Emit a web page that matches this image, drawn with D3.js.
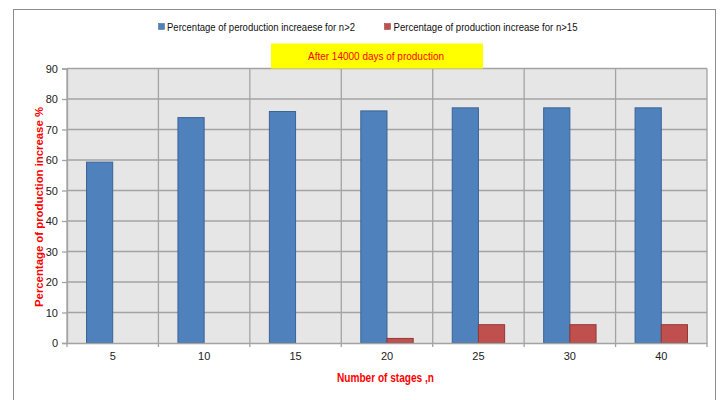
<!DOCTYPE html>
<html>
<head>
<meta charset="utf-8">
<script src="https://cdn.jsdelivr.net/npm/d3@7"></script>
<style>
  html, body { margin: 0; padding: 0; background: #fff; }
  svg { display: block; }
  text { font-family: "Liberation Sans Narrow", "Liberation Sans", Arial, sans-serif; }
</style>
</head>
<body>
<svg id="chart" width="720" height="400"></svg>
<script>
// Number of stages (category axis)
const stages = ["5", "10", "15", "20", "25", "30", "40"];
// Percentage of production increase for n>2
const increaseN2 = [59.3, 73.9, 75.9, 76.1, 77.1, 77.1, 77.1];
// Percentage of production increase for n>15
const increaseN15 = [0, 0, 0, 1.5, 6, 6, 6];
const yTicks = [0, 10, 20, 30, 40, 50, 60, 70, 80, 90];
const seriesNames = [
  "Percentage of peroduction increaese for n>2",
  "Percentage of production increase for n>15"
];
const chartTitle = "After  14000 days of production";
const xTitle = "Number of stages ,n";
const yTitle = "Percentage of  production  increase %";

const svg = d3.select("#chart");
const plot = { left: 67, right: 707, top: 68.5, bottom: 343 };

// outer frame
svg.append("rect")
  .attr("x", 13.5).attr("y", 9.5)
  .attr("width", 702).attr("height", 400)
  .attr("fill", "#fff").attr("stroke", "#8c8c8c").attr("stroke-width", 1);

const x0 = d3.scaleBand().domain(stages).range([plot.left, plot.right]).paddingInner(0).paddingOuter(0);
const x1 = d3.scaleBand().domain([0, 1]).range([0, x0.bandwidth()]).paddingInner(0).paddingOuter(0.745);
const y = d3.scaleLinear().domain([0, 90]).range([plot.bottom, plot.top]);

// plot area background
svg.append("rect")
  .attr("x", plot.left).attr("y", plot.top)
  .attr("width", plot.right - plot.left).attr("height", plot.bottom - plot.top)
  .attr("fill", "#e6e6e6");

// horizontal gridlines
svg.append("g").selectAll("line").data(yTicks.slice(1)).join("line")
  .attr("x1", plot.left).attr("x2", plot.right)
  .attr("y1", d => y(d)).attr("y2", d => y(d))
  .attr("stroke", "#a3a3a3").attr("stroke-width", 1.3);

// vertical gridlines at category boundaries
const bounds = stages.map(s => x0(s)).concat([plot.right]);
svg.append("g").selectAll("line").data(bounds).join("line")
  .attr("x1", d => d).attr("x2", d => d)
  .attr("y1", plot.top).attr("y2", plot.bottom + 4)
  .attr("stroke", "#a3a3a3").attr("stroke-width", 1.3);

// bars
const groups = svg.append("g").selectAll("g").data(stages).join("g")
  .attr("transform", d => `translate(${x0(d)},0)`);
const fills = ["#4f81bd", "#c0504d"];
const strokes = ["#3a6496", "#943734"];
groups.each(function(s, i) {
  const vals = [increaseN2[i], increaseN15[i]];
  d3.select(this).selectAll("rect").data(vals).join("rect")
    .attr("x", (v, k) => x1(k))
    .attr("width", x1.bandwidth())
    .attr("y", v => y(v))
    .attr("height", v => y(0) - y(v))
    .attr("fill", (v, k) => fills[k])
    .attr("stroke", (v, k) => v > 0 ? strokes[k] : "none")
    .attr("stroke-width", 1);
});

// y axis
const yAxis = svg.append("g")
  .attr("transform", `translate(${plot.left},0)`)
  .call(d3.axisLeft(y).tickValues(yTicks).tickSize(5).tickPadding(4));
yAxis.select(".domain").attr("stroke", "#a3a3a3").attr("stroke-width", 1.3);
yAxis.selectAll(".tick line").attr("stroke", "#a3a3a3").attr("stroke-width", 1.3);
yAxis.selectAll(".tick text")
  .attr("font-family", "'Liberation Sans Narrow', 'Liberation Sans', Arial, sans-serif")
  .attr("font-size", 11).attr("fill", "#222");

// x axis
const xAxis = svg.append("g")
  .attr("transform", `translate(0,${plot.bottom})`)
  .call(d3.axisBottom(x0).tickSize(0).tickPadding(9));
xAxis.select(".domain").attr("stroke", "#a3a3a3").attr("stroke-width", 1.3);
xAxis.selectAll(".tick text")
  .attr("font-family", "Liberation Sans, Arial, sans-serif")
  .attr("font-size", 11).attr("fill", "#222");

// legend
const legendItems = [
  { sq: 158.5, tx: 167, w: 188 },
  { sq: 384.5, tx: 393.5, w: 184 }
];
legendItems.forEach((it, k) => {
  svg.append("rect").attr("x", it.sq).attr("y", 23.5).attr("width", 6).attr("height", 6)
    .attr("fill", fills[k]).attr("stroke", strokes[k]).attr("stroke-width", 0.5);
  svg.append("text").attr("x", it.tx).attr("y", 30.5)
    .attr("font-size", 11).attr("fill", "#111")
    .attr("textLength", it.w).attr("lengthAdjust", "spacingAndGlyphs")
    .text(seriesNames[k]);
});

// chart title box
svg.append("rect").attr("x", 271).attr("y", 43.5).attr("width", 212).attr("height", 25)
  .attr("fill", "#ffff00");
svg.append("text").attr("x", 376).attr("y", 60)
  .attr("text-anchor", "middle").attr("font-size", 11).attr("fill", "#ff0000")
  .attr("textLength", 136).attr("lengthAdjust", "spacingAndGlyphs")
  .text(chartTitle);

// axis titles
svg.append("text").attr("x", 385.5).attr("y", 381.5)
  .attr("text-anchor", "middle").attr("font-size", 12).attr("font-weight", "bold")
  .attr("fill", "#ff0000")
  .attr("textLength", 97).attr("lengthAdjust", "spacingAndGlyphs")
  .text(xTitle);

svg.append("text")
  .attr("transform", "translate(43,207) rotate(-90)")
  .attr("text-anchor", "middle").attr("font-size", 11).attr("font-weight", "bold")
  .attr("fill", "#ff0000")
  .attr("textLength", 200).attr("lengthAdjust", "spacingAndGlyphs")
  .text(yTitle);
</script>
</body>
</html>
